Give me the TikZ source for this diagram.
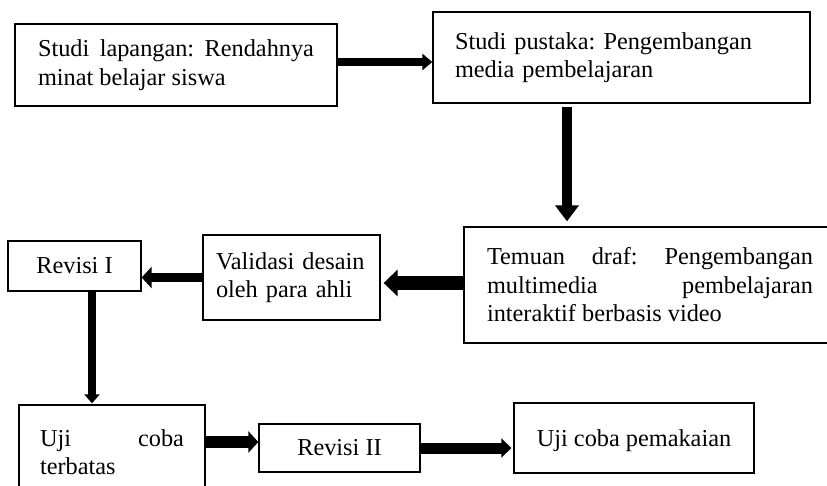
\documentclass[tikz,border=0pt]{standalone}
\usepackage{fontspec}
\setmainfont{Liberation Serif}
\usetikzlibrary{arrows.meta}
\frenchspacing
\newcommand{\boxfont}{\fontsize{24.3}{28.5}\selectfont\frenchspacing}
\tikzset{
  box/.style={draw, line width=1.3pt, font=\boxfont, inner ysep=0pt, anchor=center},
}
\begin{document}
\begin{tikzpicture}[x=1pt,y=-1pt]
\useasboundingbox (0,0) rectangle (827,486);
% boxes
\node[box, text width=276pt, inner xsep=23pt, minimum height=82pt, align=justify] (b1) at (176,65)
  {Studi lapangan: Rendahnya\linebreak minat belajar siswa};
\node[box, text width=333pt, inner xsep=22pt, minimum height=91pt, align=left] (b2) at (621.5,57.5)
  {Studi pustaka: Pengembangan\\media pembelajaran};
\node[box, text width=326pt, inner xsep=23pt, minimum height=116pt, align=justify] (b3) at (650,285)
  {Temuan draf: Pengembangan\linebreak multimedia pembelajaran\linebreak interaktif berbasis video};
\node[box, text width=151pt, inner xsep=13pt, minimum height=85pt, align=left] (b4) at (291.5,277.5)
  {Validasi desain\\oleh para ahli};
\node[box, minimum width=133pt, minimum height=50pt, inner xsep=0pt] (b5) at (74.5,266) {Revisi I};
\node[box, text width=144pt, inner xsep=21pt, minimum height=94pt, align=justify] (b6) at (112,452)
  {Uji coba\linebreak terbatas};
\node[box, minimum width=161pt, minimum height=48pt, inner xsep=0pt] (b7) at (339.5,448) {Revisi II};
\node[box, minimum width=240pt, minimum height=70pt, inner xsep=0pt, text depth=0pt] (b8) at (634,438) {Uji coba pemakaian};
% arrows
\draw[line width=8pt, -{Triangle[length=10pt,width=16pt]}]
  ([yshift=3pt]b1.east) -- ([yshift=3pt]b1.east -| b2.west);
\draw[line width=10pt, -{Triangle[length=16pt,width=23pt]}, shorten <=3pt, shorten >=5pt]
  ([xshift=-54.5pt]b2.south) -- ([xshift=-54.5pt]b2.south |- b3.north);
\draw[line width=14pt, -{Triangle[length=14pt,width=26pt]}, shorten >=3pt]
  ([yshift=2pt]b3.west) -- ([yshift=2pt]b3.west -| b4.east);
\draw[line width=9pt, -{Triangle[length=10pt,width=21pt]}]
  (b4.west) -- (b4.west -| b5.east);
\draw[line width=8pt, -{Triangle[length=9pt,width=15pt]}, shorten >=1pt]
  ([xshift=17.5pt]b5.south) -- ([xshift=17.5pt]b5.south |- b6.north);
\draw[line width=12pt, -{Triangle[length=10pt,width=21pt]}]
  ([yshift=10pt]b6.east) -- ([yshift=10pt]b6.east -| b7.west);
\draw[line width=11pt, -{Triangle[length=10pt,width=19pt]}, shorten >=2pt]
  (b7.east) -- (b7.east -| b8.west);
\end{tikzpicture}
\end{document}
